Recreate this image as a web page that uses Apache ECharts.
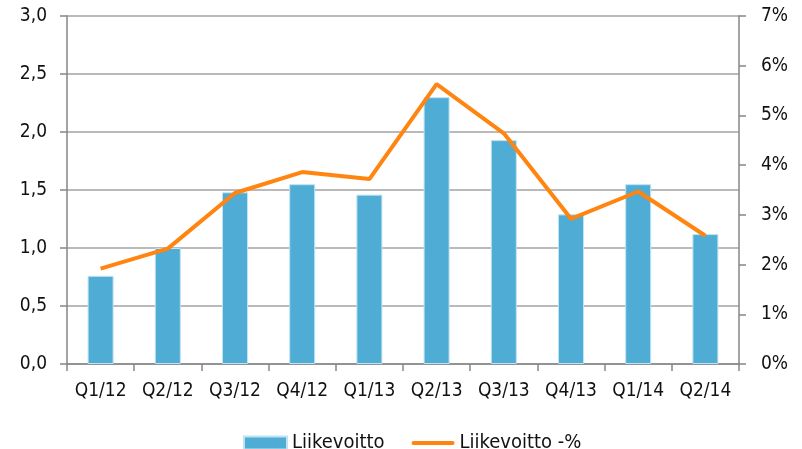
<!DOCTYPE html>
<html>
<head>
<meta charset="utf-8">
<script src="https://cdn.jsdelivr.net/npm/echarts@6/dist/echarts.min.js"></script>
<style>
  html, body { margin: 0; padding: 0; background: #fff; }
  #chart { width: 802px; height: 449px; }
</style>
</head>
<body>
<div id="chart"></div>
<script>
var quarters = ["Q1/12", "Q2/12", "Q3/12", "Q4/12", "Q1/13", "Q2/13", "Q3/13", "Q4/13", "Q1/14", "Q2/14"];
var liikevoitto = [0.76, 1.0, 1.48, 1.55, 1.46, 2.3, 1.93, 1.29, 1.55, 1.12];
var liikevoittoPct = [1.92, 2.32, 3.44, 3.86, 3.72, 5.63, 4.64, 2.92, 3.47, 2.58];

var fontFam = "'DejaVu Sans Condensed', 'Liberation Sans', sans-serif";
var axisGray = "#868686";

var myChart = echarts.init(document.getElementById("chart"));
var option = {
  backgroundColor: "#fff",
  animation: false,
  textStyle: { fontFamily: fontFam },
  grid: { left: 67, right: 63, top: 16, bottom: 85 },
  legend: {
    top: 428,
    left: 238,
    itemWidth: 43,
    itemHeight: 13,
    itemGap: 27,
    textStyle: { fontSize: 20, color: "#111", fontFamily: fontFam },
    data: [
      { name: "Liikevoitto", icon: "rect" },
      { name: "Liikevoitto -%", icon: "path://M2,4 L43,4 A2,2 0 0 1 43,8 L2,8 A2,2 0 0 1 2,4 Z" }
    ]
  },
  xAxis: {
    type: "category",
    data: quarters,
    axisLine: { lineStyle: { color: axisGray, width: 1.5 } },
    axisTick: { show: true, interval: 0, length: 7, lineStyle: { color: axisGray, width: 1.5 } },
    axisLabel: { interval: 0, fontSize: 19, color: "#111", margin: 18 }
  },
  yAxis: [
    {
      type: "value",
      min: 0,
      max: 3,
      interval: 0.5,
      axisLine: { show: true, lineStyle: { color: axisGray, width: 1.5 } },
      axisTick: { show: true, length: 7, lineStyle: { color: axisGray, width: 1.5 } },
      splitLine: { lineStyle: { color: "#a3a3a3", width: 1.5 } },
      axisLabel: {
        fontSize: 19,
        color: "#111",
        margin: 20,
        formatter: function (v) { return v.toFixed(1).replace(".", ","); }
      }
    },
    {
      type: "value",
      min: 0,
      max: 7,
      interval: 1,
      position: "right",
      axisLine: { show: true, lineStyle: { color: axisGray, width: 1.5 } },
      axisTick: { show: true, length: 7, lineStyle: { color: axisGray, width: 1.5 } },
      splitLine: { show: false },
      axisLabel: { fontSize: 19, color: "#111", margin: 22, formatter: "{value}%" }
    }
  ],
  series: [
    {
      name: "Liikevoitto",
      type: "bar",
      data: liikevoitto,
      barWidth: 26,
      itemStyle: { color: "#4facd4", borderColor: "#bfe3f2", borderWidth: 1 }
    },
    {
      name: "Liikevoitto -%",
      type: "line",
      yAxisIndex: 1,
      data: liikevoittoPct,
      symbol: "none",
      itemStyle: { color: "#ff8410" },
      lineStyle: { color: "#ff8410", width: 4 },
      z: 5
    }
  ]
};
myChart.setOption(option);
</script>
</body>
</html>
